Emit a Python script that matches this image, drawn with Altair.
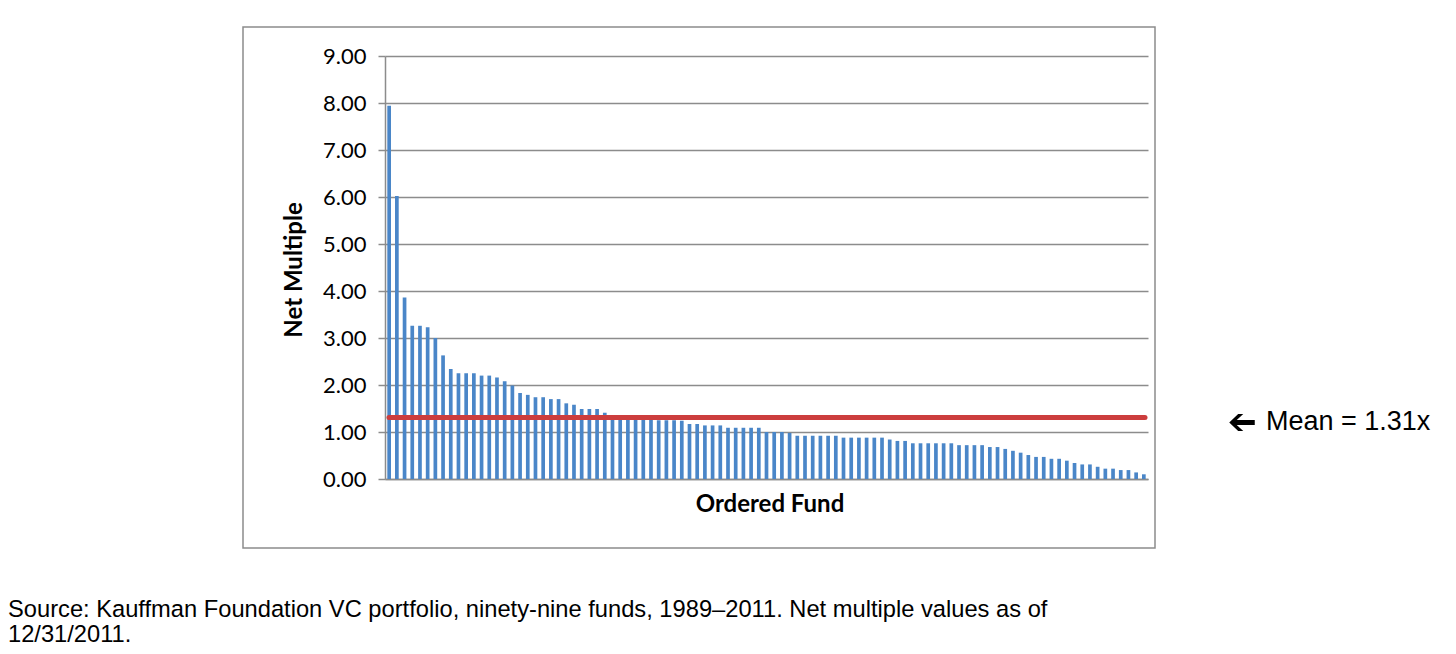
import altair as alt
import pandas as pd

# Net multiples of 99 ordered funds
net_multiple = [
    7.94, 6.02, 3.86, 3.26, 3.26, 3.23, 3.00, 2.63, 2.34, 2.25,
    2.25, 2.25, 2.20, 2.20, 2.16, 2.08, 1.99, 1.83, 1.79, 1.74,
    1.74, 1.70, 1.70, 1.61, 1.58, 1.49, 1.49, 1.49, 1.41, 1.32,
    1.31, 1.30, 1.30, 1.29, 1.28, 1.25, 1.25, 1.25, 1.24, 1.17,
    1.17, 1.14, 1.14, 1.14, 1.09, 1.09, 1.09, 1.09, 1.09, 1.00,
    1.00, 1.00, 0.98, 0.92, 0.92, 0.92, 0.92, 0.92, 0.92, 0.88,
    0.88, 0.88, 0.88, 0.88, 0.88, 0.84, 0.81, 0.81, 0.76, 0.76,
    0.76, 0.76, 0.76, 0.76, 0.72, 0.72, 0.72, 0.72, 0.68, 0.68,
    0.64, 0.60, 0.56, 0.51, 0.47, 0.47, 0.43, 0.43, 0.39, 0.34,
    0.31, 0.31, 0.26, 0.22, 0.22, 0.19, 0.19, 0.14, 0.10,
]
fund_rank = list(range(1, len(net_multiple) + 1))
y_ticks = [0, 1, 2, 3, 4, 5, 6, 7, 8, 9]
MEAN = 1.31
mean_label = "Mean = 1.31x"
y_title = "Net Multiple"
x_title = "Ordered Fund"
source_lines = [
    "Source: Kauffman Foundation VC portfolio, ninety-nine funds, 1989\u20132011. Net multiple values as of",
    "12/31/2011.",
]

df = pd.DataFrame({"fund": fund_rank, "multiple": net_multiple})
mean_df = pd.DataFrame({"multiple": [MEAN]})

W, H = 763, 423
GRID = "#8c8c8c"

y_scale = alt.Scale(domain=[0, 9], nice=False)
y_axis = alt.Axis(values=y_ticks, format=".2f", title=None,
                  labelFont="Lato", labelFontSize=22, labelColor="black",
                  labelPadding=12, tickSize=7, tickColor=GRID, tickWidth=1.5,
                  domainColor=GRID, domainWidth=1.5,
                  grid=True, gridColor=GRID, gridWidth=1.5, gridOpacity=1)


def y_enc():
    return alt.Y("multiple:Q", scale=y_scale, axis=y_axis)


bars = alt.Chart(df).mark_bar(color="#4a86c8").encode(
    x=alt.X("fund:O", sort=fund_rank,
            scale=alt.Scale(paddingInner=0.52, paddingOuter=0.3),
            axis=alt.Axis(labels=False, ticks=False, title=None, grid=False,
                          domainColor=GRID, domainWidth=1.5)),
    y=y_enc(),
)

mean_rule = alt.Chart(mean_df).mark_rule(
    color="#cc3d3d", strokeWidth=5, strokeCap="round"
).encode(y=y_enc(), x=alt.value(4), x2=alt.value(760))

arrow_path = ("M -1.5 0 L -0.45 -1 L 0.15 -1 L -0.62 -0.3 L 1.5 -0.3 "
              "L 1.5 0.3 L -0.62 0.3 L 0.15 1 L -0.45 1 Z")
arrow = alt.Chart(mean_df).mark_point(
    shape=arrow_path, size=289, filled=True, color="black", opacity=1,
    strokeWidth=0, yOffset=5,
).encode(y=y_enc(), x=alt.value(857))

mean_text = alt.Chart(mean_df).mark_text(
    text=mean_label, font="Liberation Sans", fontSize=27, align="left",
    baseline="middle", color="black", dy=5,
).encode(y=y_enc(), x=alt.value(881))

frame = alt.Chart(mean_df).mark_rect(
    fill=None, stroke=GRID, strokeWidth=1.5
).encode(x=alt.value(-142), x2=alt.value(770), y=alt.value(-29), y2=alt.value(492))

ytitle = alt.Chart(mean_df).mark_text(
    text=y_title, font="Lato", fontWeight="bold", fontSize=24, angle=270,
    align="center", baseline="middle", color="black",
).encode(x=alt.value(-90), y=alt.value(214))

xtitle = alt.Chart(mean_df).mark_text(
    text=x_title, font="Lato", fontWeight="bold", fontSize=24,
    align="center", baseline="middle", color="black",
).encode(x=alt.value(385), y=alt.value(449))

source1 = alt.Chart(mean_df).mark_text(
    text=source_lines[0], font="Liberation Sans", fontSize=23.7, align="left",
    baseline="alphabetic", color="black",
).encode(x=alt.value(-377), y=alt.value(561))

source2 = alt.Chart(mean_df).mark_text(
    text=source_lines[1], font="Liberation Sans", fontSize=23.7, align="left",
    baseline="alphabetic", color="black",
).encode(x=alt.value(-377), y=alt.value(586))

chart = alt.layer(frame, bars, mean_rule, arrow, mean_text, ytitle, xtitle,
                  source1, source2).properties(
    width=W, height=H,
    autosize=alt.AutoSizeParams(type="none"),
    padding={"left": 377, "top": 48, "right": 300, "bottom": 167},
    view=alt.ViewBackground(stroke="transparent", strokeWidth=0),
).configure_view(stroke="transparent", strokeWidth=0).configure(background="white")

chart.save("out.html", embed_options={"renderer": "svg", "actions": False})
